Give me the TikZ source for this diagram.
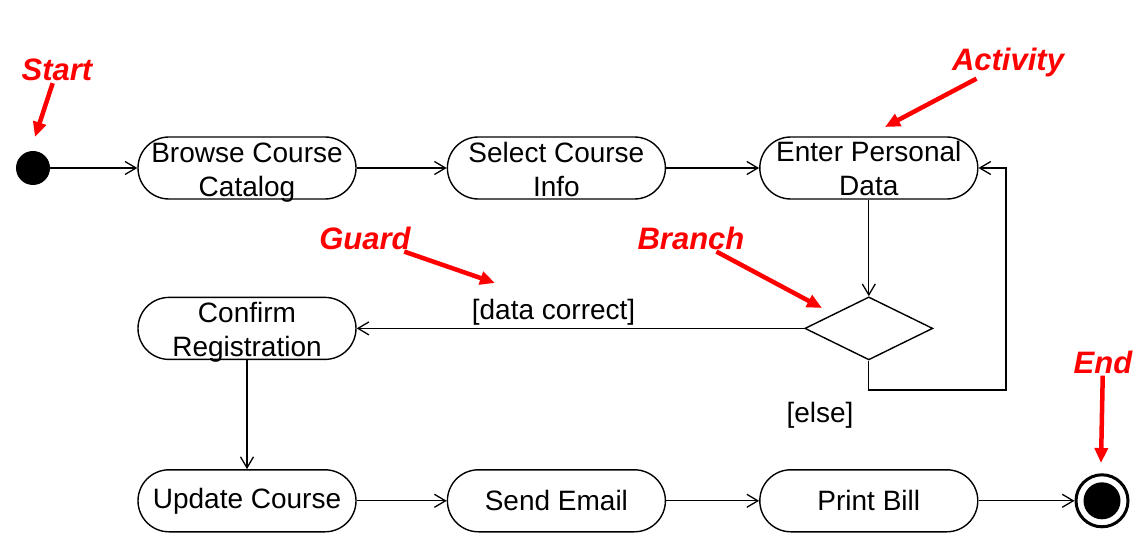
\documentclass[tikz,border=0pt]{standalone}
\usepackage{fontspec}
\setmainfont{Liberation Sans}
\usetikzlibrary{positioning}
\usetikzlibrary{shapes.geometric}
\usetikzlibrary{arrows.meta}

\begin{document}
\begin{tikzpicture}[x=1pt,y=-1pt,node distance=90pt,
activity/.style={draw,line width=1.4pt,rounded corners=31pt,minimum width=218pt,minimum height=62pt,inner sep=0pt,align=center,font=\fontsize{28}{34}\selectfont},
boxtext/.style={align=center,inner sep=0pt,font=\fontsize{28}{34}\selectfont},
branch/.style={draw,line width=1.4pt,diamond,inner sep=0pt,minimum width=128pt,minimum height=63pt},
dot/.style={circle,fill=black,inner sep=0pt},
ring/.style={circle,draw,line width=3pt,inner sep=0pt,minimum size=52pt},
guardtxt/.style={font=\fontsize{28}{34}\selectfont,inner sep=2pt},
note/.style={text=red,font=\fontsize{31}{36}\selectfont\bfseries\itshape,inner sep=2pt},
flow/.style={line width=1.3pt,-{Straight Barb[length=11pt,width=13pt]}},
pointer/.style={draw=red,line width=4.5pt,-{Triangle[length=15pt,width=13pt]}}
]
\useasboundingbox (0,0) rectangle (1143,553);
%-- activities
\node[dot,minimum size=34pt] (start) at (33,168) {};
\node[activity] (browse) at (247,168) {};
\node[boxtext] at ([yshift=-5pt]browse.center) {Browse Course\\Catalog};
\node[activity,right=90pt of browse] (select) {};
\node[boxtext] at ([yshift=-1pt]select.center) {Select Course\\Info};
\node[activity,right=93pt of select] (enter) {};
\node[boxtext] at (enter.center) {Enter Personal\\Data};
\node[activity,below=97pt of browse] (confirm) {};
\node[boxtext] at ([yshift=-4pt]confirm.center) {Confirm\\Registration};
\node[branch] (br) at (enter |- confirm) {};
\node[activity,below=109pt of confirm] (update) {Update Course};
\node[activity,right=90pt of update] (email) {Send Email};
\node[activity,right=93pt of email] (bill) {Print Bill};
\node[ring,right=96pt of bill] (stop) {};
\node[dot,minimum size=37pt] at (stop.center) {};
%-- flows
\draw[flow] (start) -- (browse);
\draw[flow] (browse) -- (select);
\draw[flow] (select) -- (enter);
\draw[flow] (enter) -- (br);
\draw[flow] (br.west) -- node[guardtxt,above,pos=0.56] (ok) {[data correct]} (confirm.east);
\coordinate (loop) at (1006,390);
\draw[flow] (br.south) |- (loop) |- (enter.east);
\node[guardtxt] (else) at (820,415) {[else]};
\draw[flow] (confirm) -- (update);
\draw[flow] (update) -- (email);
\draw[flow] (email) -- (bill);
\draw[flow] (bill) -- (stop);
%-- notes
\node[note] (startnote) at (57,70) {Start};
\coordinate (startpt) at (35,137);
\draw[pointer] (startnote) -- (startpt);
\node[note] (actnote) at (1008,62) {Activity};
\coordinate (actpt) at (885,127);
\draw[pointer] (actnote) -- (actpt);
\node[note] (guardnote) at (365,238) {Guard};
\coordinate (guardpt) at (495,283);
\draw[pointer] (guardnote) -- (guardpt);
\node[note] (brnote) at (691,238) {Branch};
\coordinate (brpt) at (822,308);
\draw[pointer] (brnote) -- (brpt);
\node[note] (endnote) at (1103,362) {End};
\coordinate (endpt) at (1101,463);
\draw[pointer] (endnote) -- (endpt);
\end{tikzpicture}
\end{document}
